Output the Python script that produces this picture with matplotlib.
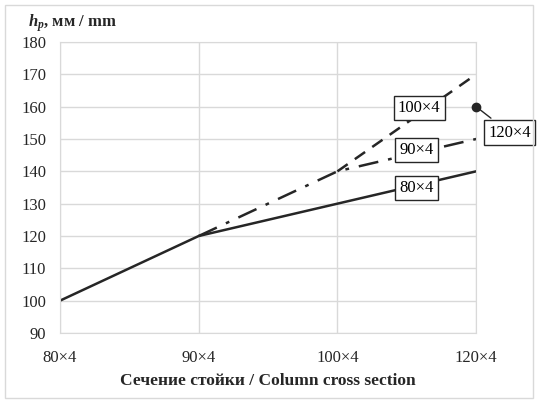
import matplotlib.pyplot as plt
from matplotlib.patches import Rectangle

plt.rcParams['font.family'] = 'Liberation Serif'
plt.rcParams['mathtext.fontset'] = 'custom'
plt.rcParams['mathtext.rm'] = 'Liberation Serif'
plt.rcParams['mathtext.it'] = 'Liberation Serif:italic'
plt.rcParams['mathtext.bf'] = 'Liberation Serif:bold'
plt.rcParams['mathtext.bfit'] = 'Liberation Serif:bold:italic'

# data
sections = ['80×4', '90×4', '100×4', '120×4']
h80 = [100, 120, 130, 140]
h90 = [None, 120, 140, 150]
h100 = [None, None, 140, 170]
h120 = [None, None, None, 160]

xs = list(range(len(sections)))
col = '#262626'

fig = plt.figure(figsize=(5.38, 4), dpi=100)
ax = fig.add_axes([0.1115, 0.1675, 0.7735, 0.7275])

fig.patches.append(Rectangle((0.009, 0.006), 0.982, 0.982, transform=fig.transFigure,
                             fill=False, edgecolor='#d9d9d9', lw=1))

def pts(vals):
    return [x for x, v in zip(xs, vals) if v is not None], [v for v in vals if v is not None]

x, y = pts(h100)
ax.plot(x, y, color=col, lw=1.8, dashes=(5, 3.5))
x, y = pts(h90)
ax.plot(x, y, color=col, lw=1.8, dashes=(8, 4, 1.5, 4))
x, y = pts(h80)
ax.plot(x, y, color=col, lw=1.8)
x, y = pts(h120)
ax.plot(x, y, 'o', color=col, ms=6, zorder=5, clip_on=False)

box = dict(boxstyle='square,pad=0.25', fc='white', ec=col, lw=1)
ax.text(2.59, 159.5, '100×4', ha='center', va='center', fontsize=12, bbox=box)
ax.text(2.57, 146.7, '90×4', ha='center', va='center', fontsize=12, bbox=box)
ax.text(2.57, 134.8, '80×4', ha='center', va='center', fontsize=12, bbox=box)
ax.annotate('120×4', xy=(3, 160), xytext=(3.24, 152), ha='center', va='center',
            fontsize=12, bbox=box, arrowprops=dict(arrowstyle='-', color=col, lw=1))

ax.set_xlim(0, 3)
ax.set_ylim(90, 180)
ax.set_xticks(xs)
ax.set_xticklabels(sections)
ax.set_yticks(range(90, 181, 10))
ax.grid(True, color='#d9d9d9', lw=1)
ax.set_axisbelow(True)
for s in ax.spines.values():
    s.set_color('#d9d9d9')
ax.tick_params(length=0, labelsize=12, colors='#262626')
ax.tick_params(axis='x', pad=12)
ax.tick_params(axis='y', pad=10)
ax.set_xlabel('Сечение стойки / Column cross section', fontsize=12.5, fontweight='bold',
              color=col, labelpad=5)
fig.text(0.052, 0.942, r'$\mathbfit{h}_{\mathbfit{p}}$, мм / mm', fontsize=12,
         fontweight='bold', color=col, ha='left', va='center')

fig.savefig('out.png', dpi=100)
